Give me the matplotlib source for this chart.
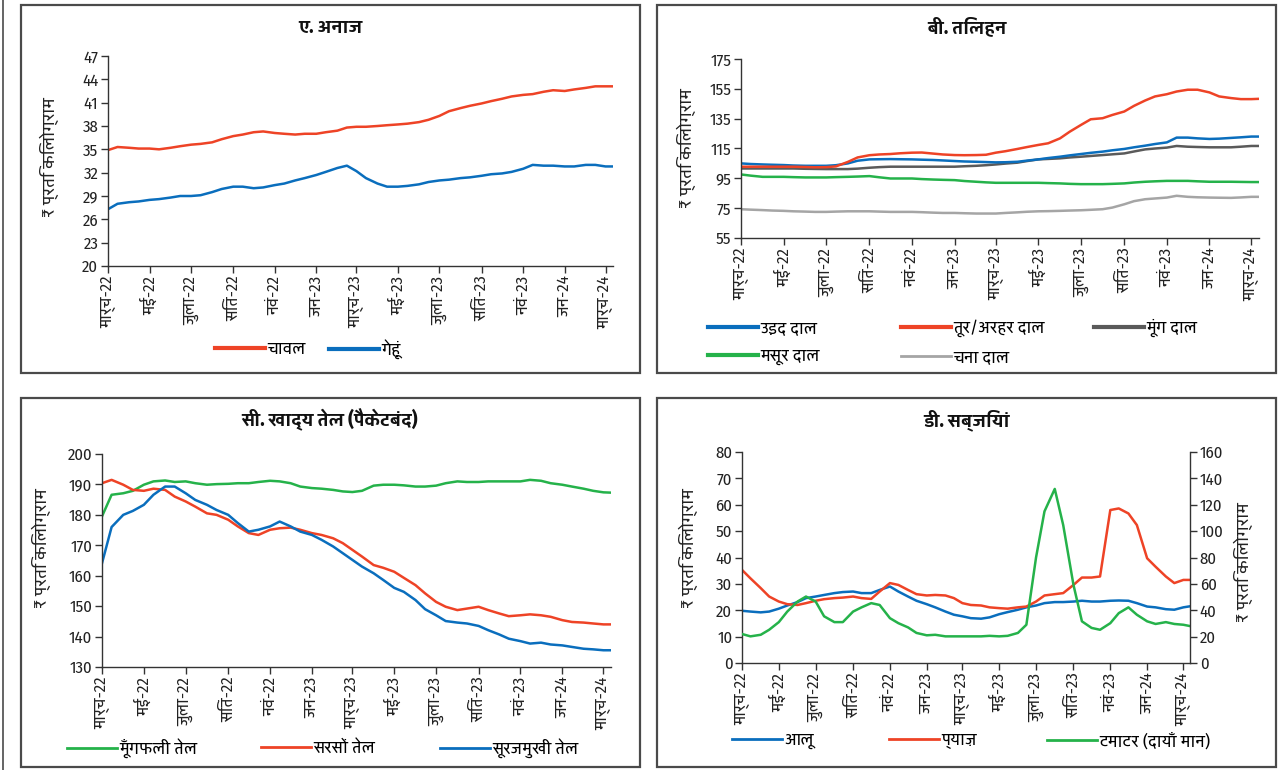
import matplotlib
matplotlib.use("Agg")
import matplotlib.pyplot as plt
from matplotlib import font_manager
from matplotlib.lines import Line2D
from matplotlib.patches import Rectangle
import pandas as pd

# ---------------- data ----------------
dates = list(pd.date_range("2022-03-01", "2024-03-01", freq="SMS")) + [pd.Timestamp("2024-03-12")]

tick_dates = ["2022-03-01", "2022-05-01", "2022-07-01", "2022-09-01", "2022-11-01", "2023-01-01",
              "2023-03-01", "2023-05-01", "2023-07-01", "2023-09-01", "2023-11-01", "2024-01-01",
              "2024-03-01"]
tick_labels = ["मार्च-22", "मई-22", "जुला-22", "सितं-22", "नवं-22", "जन-23", "मार्च-23",
               "मई-23", "जुला-23", "सितं-23", "नवं-23", "जन-24", "मार्च-24"]

# A. cereals
rice = [34.9, 35.3, 35.2, 35.1, 35.1, 35.0, 35.2, 35.4, 35.6, 35.7, 35.9, 36.3, 36.7, 36.9, 37.2, 37.3,
        37.1, 37.0, 36.9, 37.0, 37.0, 37.2, 37.4, 37.8, 37.9, 37.9, 38.0, 38.1, 38.2, 38.3, 38.5, 38.8,
        39.3, 39.9, 40.3, 40.6, 40.9, 41.2, 41.5, 41.8, 42.0, 42.1, 42.4, 42.6, 42.5, 42.7, 42.9, 43.1,
        43.1, 43.1]
wheat = [27.3, 28.0, 28.2, 28.3, 28.5, 28.6, 28.8, 29.0, 29.0, 29.1, 29.5, 29.9, 30.2, 30.2, 30.0, 30.1,
         30.4, 30.6, 31.0, 31.3, 31.7, 32.1, 32.6, 32.9, 32.2, 31.3, 30.6, 30.2, 30.2, 30.3, 30.5, 30.8,
         31.0, 31.1, 31.3, 31.4, 31.6, 31.8, 31.9, 32.1, 32.5, 33.0, 32.9, 32.9, 32.8, 32.8, 33.0, 33.0,
         32.8, 32.8]

# B. pulses
urad = [105.0, 104.6, 104.3, 104.1, 103.9, 103.6, 103.4, 103.4, 103.4, 103.8, 105.0, 106.8, 107.7, 107.8,
        107.9, 107.8, 107.7, 107.5, 107.3, 107.0, 106.6, 106.3, 106.1, 105.9, 105.7, 105.8, 106.1, 106.9,
        107.7, 108.6, 109.5, 110.4, 111.3, 112.1, 112.9, 113.8, 114.7, 115.8, 116.9, 118.0, 119.1, 122.3,
        122.3, 121.8, 121.4, 121.6, 122.1, 122.5, 123.0, 123.0]
tur = [102.8, 102.8, 102.8, 102.8, 102.8, 102.8, 102.6, 102.4, 102.5, 103.0, 106.0, 109.0, 110.5, 111.0,
       111.3, 111.8, 112.2, 112.3, 111.6, 111.0, 110.6, 110.5, 110.6, 110.8, 112.2, 113.2, 114.7, 116.0,
       117.4, 118.5, 121.8, 126.3, 130.8, 134.6, 135.3, 137.5, 139.8, 143.6, 147.2, 149.9, 151.4, 153.2,
       154.4, 154.4, 152.6, 149.9, 148.8, 148.1, 148.1, 148.3]
moong = [101.6, 101.6, 101.6, 101.6, 101.6, 101.6, 101.4, 101.3, 101.2, 101.2, 101.2, 101.5, 102.1, 102.5,
         102.8, 102.8, 102.8, 102.8, 102.8, 102.8, 102.8, 103.1, 103.4, 103.8, 104.3, 104.9, 105.5, 106.6,
         107.7, 108.0, 108.4, 109.0, 109.5, 110.0, 110.6, 111.1, 111.7, 113.0, 114.4, 115.0, 115.6, 116.7,
         116.2, 116.0, 115.8, 115.8, 115.8, 116.2, 116.7, 116.7]
masoor = [97.6, 96.8, 96.0, 96.0, 96.0, 95.8, 95.6, 95.6, 95.6, 95.8, 96.0, 96.2, 96.5, 95.7, 94.9, 94.9,
          94.9, 94.5, 94.2, 94.0, 93.8, 93.2, 92.7, 92.3, 92.0, 92.0, 92.0, 92.0, 92.0, 91.8, 91.6, 91.3,
          91.1, 91.1, 91.1, 91.3, 91.6, 92.2, 92.7, 93.0, 93.3, 93.3, 93.3, 93.0, 92.7, 92.7, 92.7, 92.6,
          92.5, 92.5]
chana = [74.3, 74.0, 73.7, 73.4, 73.2, 72.9, 72.7, 72.5, 72.5, 72.7, 72.9, 72.9, 72.9, 72.7, 72.5, 72.5,
         72.5, 72.3, 72.0, 71.8, 71.8, 71.6, 71.4, 71.4, 71.4, 71.8, 72.2, 72.6, 72.9, 73.0, 73.2, 73.4,
         73.6, 73.9, 74.3, 75.4, 77.6, 79.7, 81.0, 81.5, 82.1, 83.3, 82.6, 82.3, 82.1, 82.0, 81.9, 82.2,
         82.6, 82.6]

# C. edible oils
groundnut_oil = [179.5, 186.6, 187.1, 187.9, 189.9, 191.0, 191.3, 190.8, 191.0, 190.4, 189.9, 190.1, 190.2,
                 190.4, 190.4, 190.8, 191.2, 191.0, 190.4, 189.3, 188.8, 188.6, 188.2, 187.7, 187.5, 187.9,
                 189.6, 189.9, 189.9, 189.7, 189.3, 189.3, 189.6, 190.4, 191.0, 190.8, 190.8, 191.0, 191.0,
                 191.0, 191.0, 191.5, 191.2, 190.4, 189.9, 189.3, 188.6, 187.9, 187.4, 187.3]
mustard_oil = [190.4, 191.5, 189.9, 188.2, 187.9, 188.6, 188.2, 186.0, 184.4, 182.7, 180.5, 180.0, 178.4,
               176.2, 174.0, 173.4, 175.1, 175.6, 175.8, 175.1, 174.0, 173.4, 172.3, 170.7, 168.5, 166.3,
               163.5, 162.6, 161.3, 159.3, 156.9, 154.2, 151.4, 149.8, 148.7, 149.2, 149.8, 148.7, 147.6,
               146.7, 147.0, 147.3, 147.0, 146.5, 145.4, 144.8, 144.6, 144.3, 144.0, 144.0]
sunflower_oil = [164.1, 176.0, 180.0, 181.3, 183.3, 186.6, 189.3, 189.3, 187.1, 184.9, 183.3, 181.6, 180.0,
                 177.3, 174.5, 175.1, 176.2, 177.8, 176.2, 174.5, 173.4, 171.8, 169.6, 167.4, 165.2, 163.0,
                 160.8, 158.6, 156.0, 154.7, 152.0, 149.0, 147.0, 145.1, 144.6, 144.3, 143.5, 142.1, 140.7,
                 139.3, 138.5, 137.7, 138.0, 137.4, 137.1, 136.6, 136.0, 135.8, 135.5, 135.5]

# D. vegetables (tomato on right axis)
potato = [19.8, 19.5, 19.2, 19.5, 20.6, 21.8, 23.1, 24.6, 25.2, 25.8, 26.5, 26.9, 27.1, 26.5, 26.5, 27.7,
          29.0, 27.1, 25.2, 23.6, 22.3, 21.1, 19.5, 18.3, 17.7, 17.0, 16.8, 17.3, 18.5, 19.3, 20.2, 21.1,
          21.8, 22.7, 23.1, 23.1, 23.3, 23.6, 23.3, 23.3, 23.6, 23.7, 23.6, 22.7, 21.4, 21.1, 20.4, 20.2,
          21.1, 21.5]
onion = [35.3, 32.1, 28.4, 25.2, 23.3, 22.3, 22.0, 22.7, 23.6, 24.2, 24.6, 24.8, 25.2, 24.6, 24.3, 27.1,
         30.3, 29.6, 27.7, 26.1, 25.6, 25.8, 25.6, 24.6, 22.7, 22.0, 21.8, 21.1, 20.8, 20.6, 21.1, 21.4,
         23.3, 25.6, 26.1, 26.5, 29.6, 32.4, 32.4, 32.8, 58.0, 58.6, 56.7, 52.3, 39.7, 36.5, 32.8, 30.3,
         31.5, 31.5]
tomato = [22.0, 20.2, 21.4, 25.2, 31.0, 39.0, 46.6, 50.4, 46.6, 35.4, 31.0, 31.0, 39.0, 42.2, 45.4, 44.0,
          34.0, 30.2, 27.0, 22.8, 21.0, 21.4, 20.2, 20.2, 20.2, 20.2, 20.2, 20.6, 20.2, 20.6, 22.8, 29.0,
          80.0, 115.0, 132.0, 104.6, 59.2, 31.6, 26.6, 25.2, 30.2, 37.8, 42.2, 36.6, 31.6, 29.6, 31.0, 29.6,
          29.0, 28.0]

# ---------------- style ----------------
RED = "#EE4326"
BLUE = "#0A6EBD"
GREEN = "#25B24A"
DGRAY = "#5A5A5A"
LGRAY = "#A5A5A5"
AXC = "#333333"

avail = {f.name for f in font_manager.fontManager.ttflist}
lat_pref = ["Fira Sans Condensed", "IBM Plex Sans Condensed", "Archivo Narrow", "Roboto Condensed",
            "Liberation Sans Narrow", "Open Sans"]
dev_pref = ["Yantramanav", "Hind", "Mukta", "Noto Sans Devanagari", "Martel Sans", "Anek Devanagari"]
lat = [f for f in lat_pref if f in avail][:1]
dev = [f for f in dev_pref if f in avail][:1]
FAM = lat + dev + ["DejaVu Sans"]
plt.rcParams["font.family"] = FAM
plt.rcParams["axes.unicode_minus"] = False

W, H = 1284, 770
fig = plt.figure(figsize=(W / 100, H / 100), dpi=100)


def fx(px):
    return px / W


def fy(py):
    return 1 - py / H


def make_ax(l, t, r, b):
    return fig.add_axes([fx(l), fy(b), fx(r - l), (b - t) / H])


def style(ax, right=False):
    for s in ["top", "right"]:
        ax.spines[s].set_visible(False)
    if right:
        ax.spines["right"].set_visible(True)
    for s in ax.spines.values():
        s.set_color(AXC)
        s.set_linewidth(1.0)
    ax.tick_params(axis="both", direction="out", length=5, width=1.0, color=AXC,
                   labelsize=12, labelcolor="#222222", pad=2)
    ax.set_xticks(pd.to_datetime(tick_dates))
    ax.set_xticklabels(tick_labels, rotation=90)
    ax.set_xlim(pd.Timestamp("2022-03-01"), pd.Timestamp("2024-03-12"))
    ax.patch.set_alpha(0)


def frame(l, t, r, b):
    fig.patches.append(Rectangle((fx(l), fy(b)), fx(r - l), (b - t) / H, transform=fig.transFigure,
                                 fill=False, edgecolor="#4a4a4a", linewidth=1.6))


def legend_entry(color, label, x, y, lw=3.0, hl=50):
    fs = 12.5
    h = Line2D([], [], color=color, lw=lw)
    fig.legend([h], [label], loc="center left", bbox_to_anchor=(fx(x), fy(y)), frameon=False,
               handlelength=hl / (fs * 100 / 72), handletextpad=0.15, borderpad=0, borderaxespad=0,
               fontsize=fs)


def ylab(text, x, y):
    fig.text(fx(x), fy(y), text, rotation=90, ha="center", va="center", fontsize=13, color="#222222")


def title(text, x, y):
    fig.text(fx(x), fy(y), text, ha="center", va="center", fontsize=14, fontweight="bold", color="#111111")


# outer left line
fig.add_artist(Line2D([fx(3), fx(3)], [0, 1], transform=fig.transFigure, color="#4a4a4a", lw=1.2))

frame(21, 5, 640, 373)
frame(657, 5, 1276, 373)
frame(21, 398, 640, 767)
frame(657, 398, 1276, 767)

LW = 1.8

# ---- Panel A ----
axA = make_ax(108, 56, 613, 266)
axA.plot(dates, rice, color=RED, lw=LW)
axA.plot(dates, wheat, color=BLUE, lw=LW)
axA.set_ylim(20, 47)
axA.set_yticks(range(20, 48, 3))
style(axA)
title("ए. अनाज", 330, 27)
ylab("₹ प्रति किलोग्राम", 49, 157)
legend_entry(RED, "चावल", 215, 349)
legend_entry(BLUE, "गेहूं", 329, 349)

# ---- Panel B ----
axB = make_ax(741, 59, 1259, 238)
axB.plot(dates, chana, color=LGRAY, lw=LW)
axB.plot(dates, masoor, color=GREEN, lw=LW)
axB.plot(dates, moong, color=DGRAY, lw=LW)
axB.plot(dates, urad, color=BLUE, lw=LW)
axB.plot(dates, tur, color=RED, lw=LW)
axB.set_ylim(55, 175)
axB.set_yticks(range(55, 176, 20))
style(axB)
title("बी. तिलहन", 967, 27)
ylab("₹ प्रति किलोग्राम", 686, 148)
legend_entry(BLUE, "उड़द दाल", 708, 328)
legend_entry(RED, "तूर/अरहर दाल", 901, 328)
legend_entry(DGRAY, "मूंग दाल", 1094, 328)
legend_entry(GREEN, "मसूर दाल", 708, 357)
legend_entry(LGRAY, "चना दाल", 901, 357, lw=2.0)

# ---- Panel C ----
axC = make_ax(102, 454, 611, 667)
axC.plot(dates, groundnut_oil, color=GREEN, lw=LW)
axC.plot(dates, mustard_oil, color=RED, lw=LW)
axC.plot(dates, sunflower_oil, color=BLUE, lw=LW)
axC.set_ylim(130, 200)
axC.set_yticks(range(130, 201, 10))
style(axC)
title("सी. खाद्य तेल (पैकेटबंद)", 330, 420)
ylab("₹ प्रति किलोग्राम", 41, 548)
legend_entry(GREEN, "मूँगफली तेल", 67, 748, lw=2.0)
legend_entry(RED, "सरसों तेल", 261, 748, lw=2.0)
legend_entry(BLUE, "सूरजमुखी तेल", 440, 748, lw=2.0)

# ---- Panel D ----
axD = make_ax(742, 452, 1190, 663)
axD2 = axD.twinx()
axD.plot(dates, potato, color=BLUE, lw=LW)
axD.plot(dates, onion, color=RED, lw=LW)
axD2.plot(dates, tomato, color=GREEN, lw=LW)
axD.set_ylim(0, 80)
axD.set_yticks(range(0, 81, 10))
axD2.set_ylim(0, 160)
axD2.set_yticks(range(0, 161, 20))
style(axD)
style(axD2, right=True)
axD2.spines["left"].set_visible(False)
axD2.spines["bottom"].set_visible(False)
axD2.tick_params(axis="x", which="both", bottom=False, labelbottom=False)
title("डी. सब्जियां", 967, 420)
ylab("₹ प्रति किलोग्राम", 688, 548)
ylab("₹ प्रति किलोग्राम", 1243, 562)
legend_entry(BLUE, "आलू", 732, 741, lw=2.0)
legend_entry(RED, "प्याज़", 889, 741, lw=2.0)
legend_entry(GREEN, "टमाटर (दायाँ मान)", 1047, 741, lw=2.0)

fig.savefig("out.png", dpi=100)
